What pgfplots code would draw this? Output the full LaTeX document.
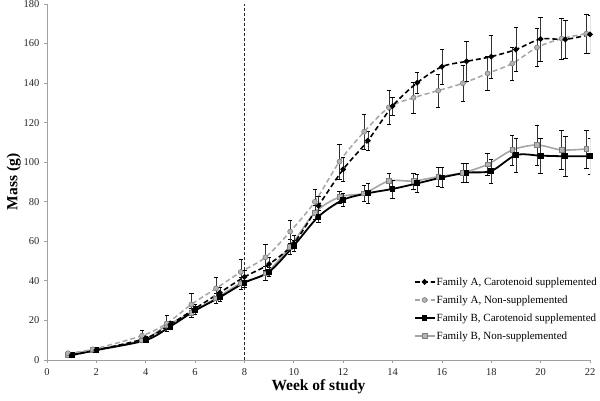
\documentclass[border=0pt]{standalone}
\usepackage{fontspec}
\setmainfont{Liberation Serif}
\usepackage{pgfplots}
\pgfplotsset{compat=1.18}

\definecolor{lightline}{HTML}{A6A6A6}
\definecolor{markfill}{HTML}{B4B4B4}
\definecolor{markedge}{HTML}{7F7F7F}
\definecolor{axisgray}{HTML}{A0A0A0}

% week, mass (g), error
\pgfplotstableread{
x y e
1 2.5 0.5
2 5 0.5
4 11 1
5 18 1.5
6 26 2
7 34 3
8 42 3.5
9 48.5 3.5
10 59 4
11 78 5
12 96.4 6
13 110.9 5
14 128.4 4.5
15 140.2 5.5
16 148.3 9
17 151 10
18 153.4 11
19 157 11
20 162.3 11
21 162.1 9.5
22 164.6 9.5
}\asupp
\pgfplotstableread{
x y e
0.85 3.4 1
1.85 5.4 0.5
3.85 12.3 2.5
4.85 18.5 4
5.85 28.1 5.5
6.85 36.2 5.5
7.85 44.5 6.5
8.85 51.9 6.5
9.85 64.9 6
10.85 80 6.5
11.85 100.3 9
12.85 115.4 9
13.85 127.7 8.5
14.85 132.6 8
15.85 136.2 8.2
16.85 139.9 9
17.85 144.9 8.5
18.85 149.9 8.3
19.85 158 9.6
20.85 162.5 10.5
21.85 165 10
}\anon
\pgfplotstableread{
x y e
1 2.5 0.5
2 5 0.5
4 10 1
5 17 1.5
6 25 2
7 31.7 2
8 39.1 2.5
9 44.6 2.5
10 57.8 3
11 72.5 3
12 81 3.5
13 84.3 5
14 86.5 4.5
15 89.3 4.5
16 92.3 5
17 94.7 5
18 95.6 6
19 103.6 8.5
20 103.3 9
21 103 10
22 103 9
}\bsupp
\pgfplotstableread{
x y e
0.85 2.8 1
1.85 5 0.5
3.85 10 1
4.85 17.5 2
5.85 23.9 2.5
6.85 31.2 2.5
7.85 38.8 3
8.85 43.8 3.5
9.85 57.3 4
10.85 74.5 3.5
11.85 82.4 3
12.85 84.3 4
13.85 90.5 4
14.85 90.5 4
15.85 92.7 5
16.85 94.7 5
17.85 98.9 5.5
18.85 106.2 7.5
19.85 108.7 10
20.85 106.2 10
21.85 106.7 9.5
}\bnon

\begin{document}
\begin{tikzpicture}
\useasboundingbox (-47bp,-41bp) rectangle (553bp,360bp);
\begin{axis}[
    at={(0,0)}, anchor=south west,
    scale only axis,
    width=543bp, height=356bp,
    xmin=0, xmax=22, ymin=0, ymax=180,
    xtick={0,2,...,22}, ytick={0,20,...,180},
    axis x line*=bottom, axis y line*=left,
    axis line style={axisgray, line width=0.8bp},
    tick style={axisgray, line width=0.8bp},
    tick align=outside, major tick length=3bp,
    tick label style={font=\fontsize{10.5bp}{12bp}\selectfont, black!85},
    /pgf/number format/assume math mode=true,
    xticklabel shift=2bp,
    yticklabel style={xshift=-1bp},
    xlabel={\textbf{Week of study}},
    ylabel={\textbf{Mass (g)}},
    label style={font=\fontsize{15.5bp}{18bp}\selectfont},
    xlabel style={yshift=3bp},
    ylabel style={yshift=-4bp},
    reverse legend,
    legend style={draw=none, fill=none, at={(1.015,0.236)}, anchor=north east,
        font=\fontsize{11bp}{12bp}\selectfont, row sep=6.5bp,
        inner sep=0pt, nodes={inner sep=1.2bp}},
    legend cell align=left,
    legend image code/.code={
        \draw[mark repeat=2,mark phase=2] plot coordinates {(0bp,0bp) (10bp,0bp) (20bp,0bp)};},
    error bars/y dir=both, error bars/y explicit,
    error bars/error mark options={solid, black, mark size=2.2bp, line width=0.5bp, rotate=90},
    error bars/error bar style={solid, black!80, line width=0.5bp},
]
\addplot[forget plot, densely dashed, black!85, line width=0.9bp] coordinates {(8,0) (8,180)};

\addplot[smooth, lightline, line width=1.6bp,
    mark=square*, mark size=2.4bp, mark options={solid, fill=markfill, draw=markedge, line width=0.6bp}]
    table[x=x, y=y, y error=e] {\bnon};
\addlegendentry{Family B, Non-supplemented}

\addplot[smooth, black, line width=1.8bp,
    mark=square*, mark size=2bp, mark options={solid, fill=black}]
    table[x=x, y=y, y error=e] {\bsupp};
\addlegendentry{Family B, Carotenoid supplemented}

\addplot[smooth, lightline, line width=1.5bp, dash pattern=on 5bp off 3bp,
    mark=*, mark size=2.5bp, mark options={solid, fill=markfill, draw=markedge, line width=0.6bp}]
    table[x=x, y=y, y error=e] {\anon};
\addlegendentry{Family A, Non-supplemented}

\addplot[smooth, black, line width=1.6bp, dash pattern=on 5bp off 3bp,
    mark=*, mark size=1.9bp, mark options={solid, fill=black}]
    table[x=x, y=y, y error=e] {\asupp};
\addlegendentry{Family A, Carotenoid supplemented}
\end{axis}
\end{tikzpicture}
\end{document}
